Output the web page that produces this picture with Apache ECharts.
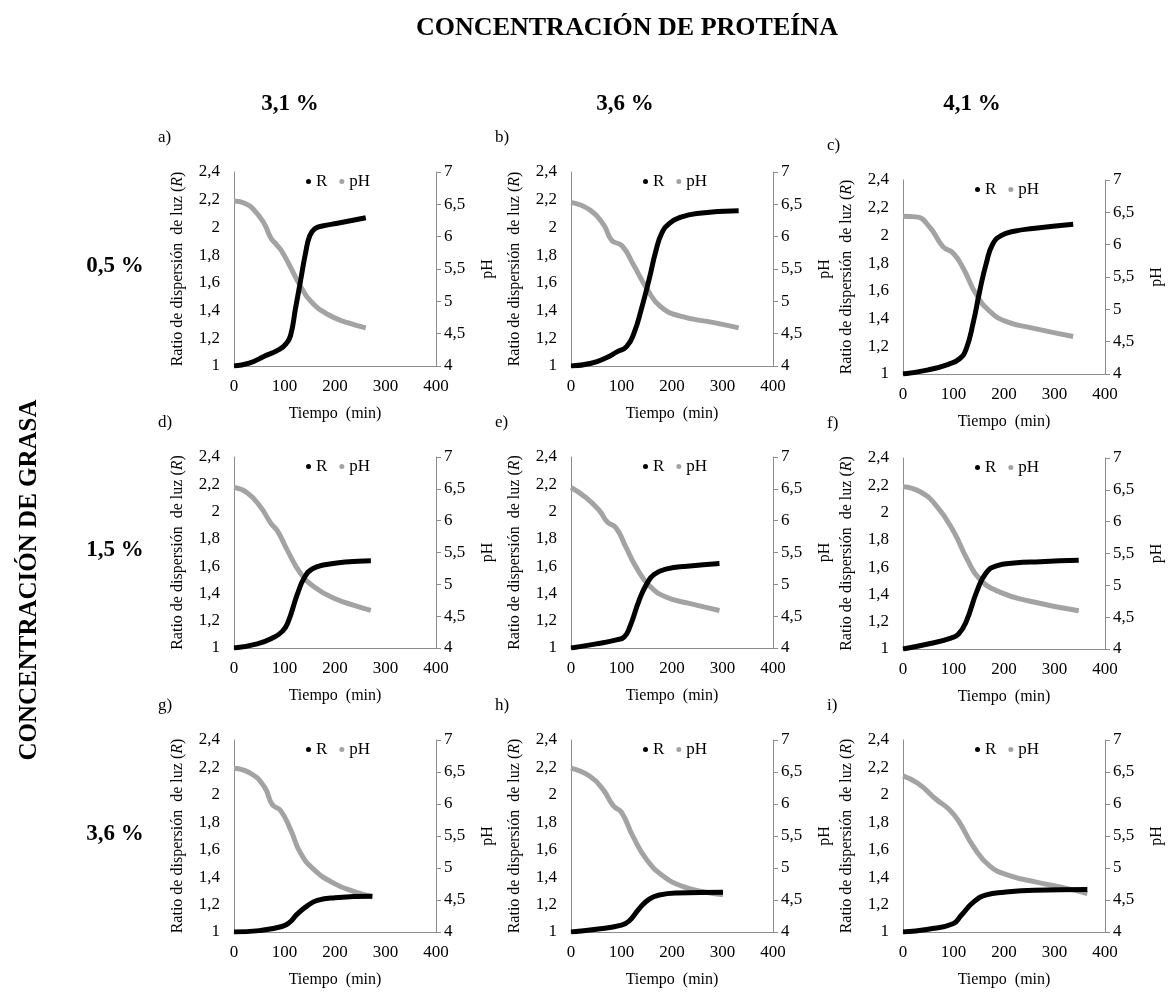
<!DOCTYPE html>
<html>
<head>
<meta charset="utf-8">
<script src="https://cdn.jsdelivr.net/npm/echarts@6/dist/echarts.min.js"></script>
<style>
  html, body { margin: 0; padding: 0; background: #fff; }
  #chart { width: 1173px; height: 992px; }
</style>
</head>
<body>
<div id="chart"></div>
<script>
// Data, [tiempo (min), valor]
const rA = [[0,1.0],[30,1.02],[60,1.07],[90,1.12],[103,1.16],[112,1.22],[122,1.42],[132,1.62],[142,1.82],[150,1.94],[160,1.99],[175,2.01],[205,2.03],[261,2.07]];
const phA = [[0,6.55],[20,6.52],[40,6.41],[60,6.2],[73,5.98],[85,5.87],[95,5.77],[113,5.51],[132,5.23],[152,5.0],[185,4.8],[225,4.67],[261,4.59]];
const rB = [[0,1.0],[40,1.02],[70,1.06],[90,1.1],[110,1.14],[125,1.24],[140,1.42],[155,1.63],[168,1.83],[180,1.96],[195,2.03],[215,2.07],[249,2.1],[332,2.12]];
const phB = [[0,6.53],[38,6.41],[65,6.18],[81,5.94],[101,5.86],[124,5.56],[150,5.2],[177,4.92],[217,4.77],[283,4.67],[332,4.59]];
const rC = [[0,1.0],[50,1.03],[90,1.07],[112,1.11],[125,1.18],[139,1.37],[152,1.6],[165,1.8],[178,1.94],[195,2.0],[220,2.03],[257,2.05],[337,2.08]];
const phC = [[0,6.44],[26,6.43],[53,6.27],[79,5.97],[99,5.87],[119,5.64],[145,5.23],[172,4.97],[205,4.81],[257,4.71],[337,4.58]];
const rD = [[0,1.0],[46,1.03],[80,1.08],[95,1.12],[106,1.18],[126,1.4],[140,1.52],[155,1.58],[180,1.61],[220,1.63],[271,1.64]];
const phD = [[0,6.52],[26,6.44],[53,6.21],[73,5.96],[86,5.84],[106,5.53],[132,5.17],[159,4.96],[198,4.78],[238,4.67],[271,4.59]];
const rE = [[0,1.0],[50,1.03],[90,1.06],[105,1.08],[116,1.15],[135,1.35],[150,1.47],[165,1.54],[190,1.58],[230,1.6],[294,1.62]];
const phE = [[0,6.52],[30,6.36],[56,6.16],[72,5.98],[89,5.89],[109,5.58],[129,5.27],[155,4.98],[188,4.8],[234,4.7],[294,4.59]];
const rF = [[0,1.0],[54,1.04],[95,1.08],[110,1.11],[125,1.2],[147,1.43],[165,1.56],[185,1.61],[220,1.63],[272,1.64],[348,1.65]];
const phF = [[0,6.55],[34,6.47],[67,6.24],[100,5.85],[127,5.41],[153,5.09],[193,4.89],[252,4.75],[348,4.6]];
const rG = [[0,1.0],[50,1.01],[95,1.04],[110,1.07],[125,1.13],[145,1.19],[165,1.23],[200,1.25],[274,1.26]];
const phG = [[0,6.56],[33,6.48],[60,6.27],[76,5.99],[92,5.9],[112,5.6],[132,5.23],[159,4.97],[198,4.76],[238,4.63],[274,4.55]];
const rH = [[0,1.0],[50,1.02],[100,1.05],[115,1.08],[135,1.17],[155,1.24],[175,1.27],[210,1.285],[301,1.29]];
const phH = [[0,6.56],[38,6.43],[64,6.22],[84,5.97],[100,5.87],[123,5.49],[150,5.13],[183,4.87],[222,4.71],[262,4.63],[301,4.58]];
const rI = [[0,1.0],[50,1.02],[99,1.06],[115,1.12],[140,1.22],[165,1.27],[200,1.29],[260,1.305],[365,1.31]];
const phI = [[0,6.44],[30,6.32],[66,6.07],[92,5.91],[112,5.71],[139,5.34],[172,5.03],[211,4.88],[264,4.78],[330,4.67],[365,4.6]];

const rSeries = [rA, rB, rC, rD, rE, rF, rG, rH, rI];
const phSeries = [phA, phB, phC, phD, phE, phF, phG, phH, phI];
const panelLabels = ['a)', 'b)', 'c)', 'd)', 'e)', 'f)', 'g)', 'h)', 'i)'];
const proteinLabels = ['3,1 %', '3,6 %', '4,1 %'];
const fatLabels = ['0,5 %', '1,5 %', '3,6 %'];

// layout
const FONT = '"Liberation Serif", "Times New Roman", serif';
const AXIS_GREY = '#8c8c8c';
const gridLeft = [234, 571, 903];
const gridTop = [[172, 172, 180], [457, 457, 458], [740, 740, 740]];
const gridHeight = [194, 191, 192];
const gridWidth = 202;

const comma = v => String(Math.round(v * 10) / 10).replace('.', ',');

const grids = [], xAxes = [], yAxes = [], series = [], legends = [], titles = [];

for (let i = 0; i < 9; i++) {
  const row = Math.floor(i / 3), col = i % 3;
  const left = gridLeft[col], top = gridTop[row][col], h = gridHeight[row];
  grids.push({ left: left, top: top, width: gridWidth, height: h });

  xAxes.push({
    type: 'value', gridIndex: i, min: 0, max: 400, interval: 100,
    name: 'Tiempo  (min)', nameLocation: 'middle', nameGap: 40,
    nameTextStyle: { fontFamily: FONT, fontSize: 16, color: '#000' },
    axisLine: { show: true, lineStyle: { color: AXIS_GREY, width: 1 } },
    axisTick: { show: false },
    splitLine: { show: false },
    axisLabel: { fontFamily: FONT, fontSize: 17, color: '#000', margin: 12 }
  });

  yAxes.push({
    type: 'value', gridIndex: i, position: 'left', min: 1, max: 2.4, interval: 0.2,
    name: 'Ratio de dispersión  de luz ({it|R})', nameLocation: 'middle', nameGap: 48, nameRotate: 90,
    nameTextStyle: { fontFamily: FONT, fontSize: 16, color: '#000',
      rich: { it: { fontFamily: FONT, fontSize: 16, fontStyle: 'italic', color: '#000' } } },
    axisLine: { show: true, lineStyle: { color: AXIS_GREY, width: 1 } },
    axisTick: { show: false },
    splitLine: { show: false },
    axisLabel: { fontFamily: FONT, fontSize: 17, color: '#000', margin: 14, formatter: comma }
  });
  yAxes.push({
    type: 'value', gridIndex: i, position: 'right', min: 4, max: 7, interval: 0.5,
    name: 'pH', nameLocation: 'middle', nameGap: 44, nameRotate: 90,
    nameTextStyle: { fontFamily: FONT, fontSize: 16, color: '#000' },
    axisLine: { show: true, lineStyle: { color: AXIS_GREY, width: 1 } },
    axisTick: { show: true, length: 5, lineStyle: { color: AXIS_GREY } },
    splitLine: { show: false },
    axisLabel: { fontFamily: FONT, fontSize: 17, color: '#000', margin: 8, formatter: comma }
  });

  series.push({
    name: 'R', type: 'line', xAxisIndex: i, yAxisIndex: 2 * i,
    data: rSeries[i], smooth: 0.5, showSymbol: false,
    lineStyle: { color: '#000', width: 5 }, itemStyle: { color: '#000' }, z: 3
  });
  series.push({
    name: 'pH', type: 'line', xAxisIndex: i, yAxisIndex: 2 * i + 1,
    data: phSeries[i], smooth: 0.5, showSymbol: false,
    lineStyle: { color: '#a3a3a3', width: 5 }, itemStyle: { color: '#a3a3a3' }, z: 2
  });

  legends.push({
    data: ['R', 'pH'], icon: 'circle', itemWidth: 5, itemHeight: 5, itemGap: 12,
    left: left + gridWidth / 2 - 34, top: top - 4,
    textStyle: { fontFamily: FONT, fontSize: 17, color: '#000' }
  });

  titles.push({
    text: panelLabels[i], left: left - 81, top: top - 48,
    textStyle: { fontFamily: FONT, fontSize: 17, fontWeight: 'normal', color: '#000' }
  });
}

titles.push({
  text: 'CONCENTRACIÓN DE PROTEÍNA', left: 622, top: 10, textAlign: 'center',
  textStyle: { fontFamily: FONT, fontSize: 26, fontWeight: 'bold', color: '#000' }
});
const headerX = [285, 620, 967];
proteinLabels.forEach((t, k) => titles.push({
  text: t, left: headerX[k], top: 88, textAlign: 'center',
  textStyle: { fontFamily: FONT, fontSize: 23, fontWeight: 'bold', color: '#000' }
}));
const rowY = [250, 534, 818];
fatLabels.forEach((t, k) => titles.push({
  text: t, left: 110, top: rowY[k], textAlign: 'center',
  textStyle: { fontFamily: FONT, fontSize: 23, fontWeight: 'bold', color: '#000' }
}));

const chart = echarts.init(document.getElementById('chart'), null, { renderer: 'canvas' });
chart.setOption({
  animation: false,
  backgroundColor: '#fff',
  title: titles,
  legend: legends,
  grid: grids,
  xAxis: xAxes,
  yAxis: yAxes,
  series: series,
  graphic: [{
    type: 'text', x: 30, y: 580, rotation: Math.PI / 2, silent: true,
    style: { text: 'CONCENTRACIÓN DE GRASA', font: 'bold 25px ' + FONT, fill: '#000',
      textAlign: 'center', textVerticalAlign: 'middle' }
  }]
});
</script>
</body>
</html>
